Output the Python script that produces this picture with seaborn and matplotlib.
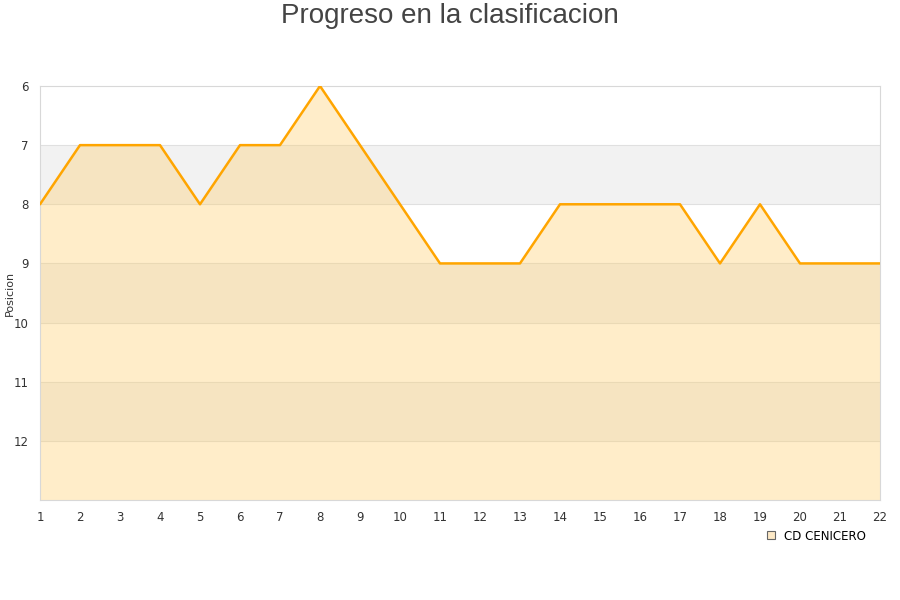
import seaborn as sns
import pandas as pd
from matplotlib import pyplot as plt
from matplotlib.lines import Line2D

jornadas = list(range(1, 23))
posicion = [8, 7, 7, 7, 8, 7, 7, 6, 7, 8, 9, 9, 9, 8, 8, 8, 8, 9, 8, 9, 9, 9]
equipo = 'CD CENICERO'

d = pd.DataFrame({'Jornada': jornadas, 'Posicion': posicion})

sns.set_style('white')
fig, ax = plt.subplots(figsize=(9, 6), dpi=100)
fig.subplots_adjust(left=40/900, right=880/900, top=1-86/600, bottom=100/600)

# alternating bands
for y0 in (7, 9, 11):
    ax.axhspan(y0, y0 + 1, color='#f2f2f2', zorder=0, lw=0)
for y in range(7, 13):
    ax.axhline(y, color='#e0e0e0', lw=0.8, zorder=1)

ax.fill_between(d.Jornada, d.Posicion, 13, color='#ffcc66', alpha=0.35, lw=0, zorder=2)
sns.lineplot(data=d, x='Jornada', y='Posicion', color='#ffa500', lw=1.8, ax=ax, zorder=3)

ax.set_xlim(1, 22)
ax.set_ylim(13, 6)
ax.set_xticks(jornadas)
ax.set_yticks(range(6, 13))
ax.tick_params(length=0, labelsize=8.5, colors='#333333', pad=8)
ax.set_xlabel('')
ax.set_ylabel('Posicion', fontsize=8, color='#333333')
ax.yaxis.set_label_coords(-0.03, 0.5)
for s in ax.spines.values():
    s.set_color('#d8d8d8')

fig.suptitle('Progreso en la clasificacion', fontsize=20, color='#444444', y=0.995,
             family='Liberation Sans')

h = Line2D([], [], marker='s', ls='', markersize=6, markerfacecolor='#fde9c6',
           markeredgecolor='#666666', markeredgewidth=0.8)
leg = fig.legend([h], [equipo], loc='center', bbox_to_anchor=(815/900, 1-536/600),
                 frameon=False, fontsize=8.5, handletextpad=0.6, handlelength=1)
for t in leg.get_texts():
    t.set_color('black')

fig.savefig('out.png', dpi=100)
